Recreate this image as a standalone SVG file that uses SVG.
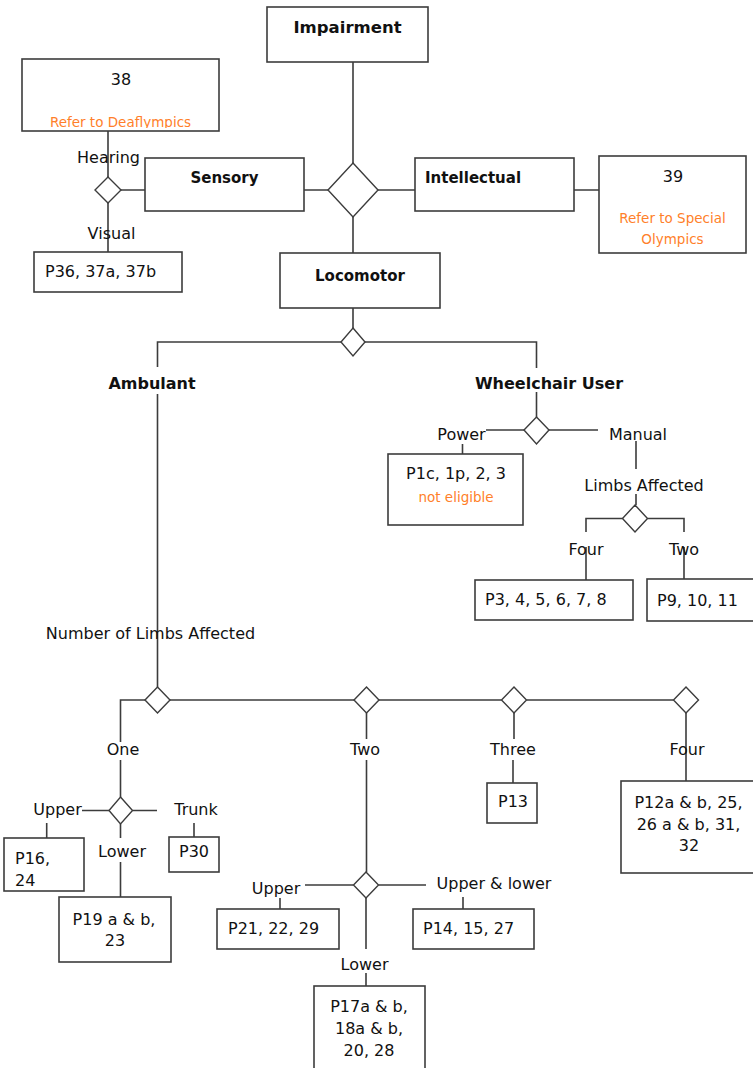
<svg xmlns="http://www.w3.org/2000/svg" width="753" height="1068" viewBox="0 0 753 1068">
<style>
.box{fill:#fff;stroke:#3c3c3c;stroke-width:1.6}
.dia{fill:#fff;stroke:#3c3c3c;stroke-width:1.4}
.ln{fill:none;stroke:#3c3c3c;stroke-width:1.6}
text{font-family:"DejaVu Sans","Liberation Sans",sans-serif;fill:#111}
.t{font-size:16px}
.b{font-size:15px;font-weight:bold}
.bl{font-size:16px;font-weight:bold}
.o{font-size:13.5px;fill:#ff7f2a}
.m{text-anchor:middle}
</style>
<defs>
<clipPath id="clip38"><rect x="22" y="59" width="197" height="69"/></clipPath>
</defs>
<rect width="753" height="1068" fill="#fff"/>
<g id="connectors">
<path class="ln" d="M353,62 V163 M304,190 H328 M378,190 H415 M574,190 H599 M353,217 V253"/>
<path class="ln" d="M108,131 V177 M121,190 H145 M108,203 V252"/>
<path class="ln" d="M353,308 V328 M341,342 H157.5 V367 M365,342 H536.5 V368 M157.5,394 V687"/>
<path class="ln" d="M536.5,392 V417 M524,430 H486 M549,430 H598 M462.5,444 V454 M636,441 V469 M636,494 V505"/>
<path class="ln" d="M622.5,518.5 H586 V532 M647.5,518.5 H684 V532 M586,547 V580 M684,547 V579"/>
<path class="ln" d="M145,700 H120.5 V742 M170,700 H354 M379,700 H501.5 M526.5,700 H673.5"/>
<path class="ln" d="M120.5,760 V797 M366.5,713 V739 M366.5,760 V872 M514,713 V739 M513,760 V783 M686,713 V781"/>
<path class="ln" d="M109,810.5 H82 M132.5,810.5 H157 M46.7,823 V838 M194,823 V837 M120.5,824 V838 M120.5,862 V897"/>
<path class="ln" d="M353.5,885 H305 M378.5,885 H426 M280,898 V909 M463,897 V909 M366,898 V949 M366,973 V986"/>
</g>
<g id="diamonds">
<polygon class="dia" points="353,163 378,190 353,217 328,190"/>
<polygon class="dia" points="108,177 121,190 108,203 95,190"/>
<polygon class="dia" points="353,328 365,342 353,356 341,342"/>
<polygon class="dia" points="536.5,417 549,430 536.5,444 524,430"/>
<polygon class="dia" points="635,505 647.5,518.5 635,532 622.5,518.5"/>
<polygon class="dia" points="157.5,687 170,700 157.5,713 145,700"/>
<polygon class="dia" points="366.5,687 379,700 366.5,713 354,700"/>
<polygon class="dia" points="514,687 526.5,700 514,713 501.5,700"/>
<polygon class="dia" points="686,687 698.5,700 686,713 673.5,700"/>
<polygon class="dia" points="120.5,797 132.5,810.5 120.5,824 109,810.5"/>
<polygon class="dia" points="366,872 378.5,885 366,898 353.5,885"/>
</g>
<g id="impairment"><rect class="box" x="267" y="7" width="161" height="55"/><text class="m" x="347.5" y="33" font-size="16.5" font-weight="bold">Impairment</text></g>
<g id="hearing-38"><rect class="box" x="22" y="59" width="197" height="72"/><text class="t m" x="121" y="85">38</text><text class="o m" x="120.5" y="126.5" clip-path="url(#clip38)">Refer to Deaflympics</text></g>
<g id="sensory"><rect class="box" x="145" y="158" width="159" height="53"/><text class="b m" x="224.5" y="183">Sensory</text></g>
<g id="intellectual"><rect class="box" x="415" y="158" width="159" height="53"/><text class="b" x="425" y="183">Intellectual</text></g>
<g id="intellectual-39"><rect class="box" x="599" y="156" width="147" height="97"/><text class="t m" x="673" y="182">39</text><text class="o m" x="672.5" y="223">Refer to Special</text><text class="o m" x="672.5" y="244">Olympics</text></g>
<g id="hearing-label"><text class="t m" x="108.5" y="163">Hearing</text></g>
<g id="visual-label"><text class="t m" x="111.5" y="239">Visual</text></g>
<g id="visual-p36"><rect class="box" x="34" y="252" width="148" height="40"/><text class="t" x="45" y="277">P36, 37a, 37b</text></g>
<g id="locomotor"><rect class="box" x="280" y="253" width="160" height="55"/><text class="b m" x="360" y="281">Locomotor</text></g>
<g id="ambulant"><text class="bl m" x="152" y="389">Ambulant</text></g>
<g id="wheelchair"><text class="bl m" x="549" y="389">Wheelchair User</text></g>
<g id="power-label"><text class="t m" x="461.5" y="440">Power</text></g>
<g id="manual-label"><text class="t m" x="638" y="440">Manual</text></g>
<g id="power-box"><rect class="box" x="388" y="454" width="135" height="71"/><text class="t m" x="456" y="479">P1c, 1p, 2, 3</text><text class="o m" x="456" y="502">not eligible</text></g>
<g id="limbs-affected"><text class="t m" x="644" y="491">Limbs Affected</text></g>
<g id="wc-four"><text class="t m" x="586" y="555">Four</text></g>
<g id="wc-two"><text class="t m" x="684" y="555">Two</text></g>
<g id="wc-four-box"><rect class="box" x="475" y="580" width="158" height="40"/><text class="t" x="485" y="605">P3, 4, 5, 6, 7, 8</text></g>
<g id="wc-two-box"><rect class="box" x="647" y="579" width="113" height="42"/><text class="t" x="657" y="606">P9, 10, 11</text></g>
<g id="num-limbs"><text class="t m" x="150.5" y="639">Number of Limbs Affected</text></g>
<g id="one"><text class="t m" x="123" y="755">One</text></g>
<g id="two"><text class="t m" x="365" y="755">Two</text></g>
<g id="three"><text class="t m" x="513" y="755">Three</text></g>
<g id="four"><text class="t m" x="687" y="755">Four</text></g>
<g id="one-upper"><text class="t m" x="57.5" y="815">Upper</text></g>
<g id="one-trunk"><text class="t m" x="196" y="815">Trunk</text></g>
<g id="one-lower"><text class="t m" x="122" y="857">Lower</text></g>
<g id="p16"><rect class="box" x="4" y="838" width="80" height="53"/><text class="t" x="15" y="864">P16,</text><text class="t" x="15" y="886">24</text></g>
<g id="p30"><rect class="box" x="169" y="837" width="50" height="35"/><text class="t m" x="194" y="857">P30</text></g>
<g id="p19"><rect class="box" x="59" y="897" width="112" height="65"/><text class="t m" x="114" y="925">P19 a &amp; b,</text><text class="t m" x="115" y="946">23</text></g>
<g id="p13"><rect class="box" x="487" y="783" width="50" height="40"/><text class="t m" x="513" y="807">P13</text></g>
<g id="p12"><rect class="box" x="621" y="781" width="139" height="92"/><text class="t m" x="688.5" y="808">P12a &amp; b, 25,</text><text class="t m" x="688.5" y="830">26 a &amp; b, 31,</text><text class="t m" x="689" y="851">32</text></g>
<g id="two-upper"><text class="t m" x="276" y="894">Upper</text></g>
<g id="two-upper-lower"><text class="t m" x="494" y="889">Upper &amp; lower</text></g>
<g id="p21"><rect class="box" x="217" y="909" width="122" height="40"/><text class="t" x="228" y="934">P21, 22, 29</text></g>
<g id="p14"><rect class="box" x="413" y="909" width="121" height="40"/><text class="t" x="423" y="934">P14, 15, 27</text></g>
<g id="two-lower"><text class="t m" x="364.5" y="970">Lower</text></g>
<g id="p17"><rect class="box" x="314" y="986" width="111" height="95"/><text class="t m" x="369" y="1012">P17a &amp; b,</text><text class="t m" x="369" y="1034">18a &amp; b,</text><text class="t m" x="369" y="1056">20, 28</text></g>
</svg>
